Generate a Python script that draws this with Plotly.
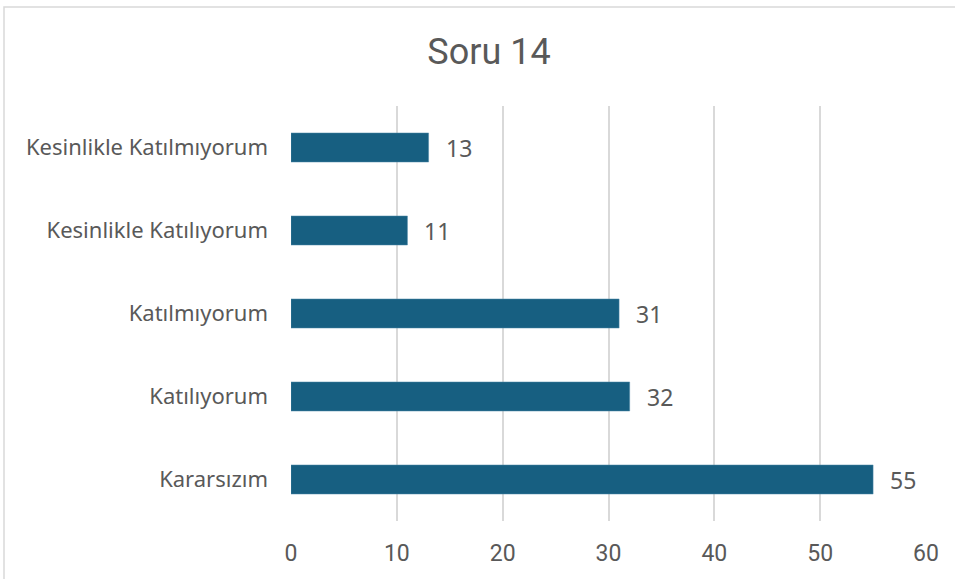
import plotly.graph_objects as go

categories = ["Kararsızım", "Katılıyorum", "Katılmıyorum",
              "Kesinlikle Katılıyorum", "Kesinlikle Katılmıyorum"]
counts = [55, 32, 31, 11, 13]
x_ticks = [0, 10, 20, 30, 40, 50, 60]

bar_color = "#175F81"
text_color = "#595959"

fig = go.Figure()
fig.add_trace(go.Bar(
    x=counts,
    y=categories,
    orientation="h",
    width=0.35,
    marker=dict(color=bar_color, line=dict(color="#4F88A6", width=0.5)),
    hoverinfo="x+y",
))

# value labels to the right of each bar
for c, v in zip(categories, counts):
    fig.add_annotation(
        x=v, y=c, text=str(v), showarrow=False,
        xanchor="left", xshift=15,
        font=dict(family="Noto Sans", size=23, color=text_color),
    )

# outer chart border
fig.add_shape(
    type="rect", xref="paper", yref="paper",
    x0=(4 - 291) / 635, x1=(960 - 291) / 635,
    y0=(521 - 590) / 415, y1=(521 - 7) / 415,
    line=dict(color="#D9D9D9", width=1.5),
)

fig.update_layout(
    width=955, height=579,
    margin=dict(l=291, r=29, t=106, b=58),
    paper_bgcolor="white",
    plot_bgcolor="white",
    showlegend=False,
    title=dict(
        text="Soru 14", x=(489 - 291) / 635, xref="paper",
        xanchor="center", y=1 - 51 / 579, yanchor="middle",
        font=dict(family="Roboto", size=36, color=text_color),
    ),
    bargap=0.65,
)

fig.update_xaxes(
    range=[0, 60], tickvals=x_ticks,
    showgrid=True, gridcolor="#D9D9D9", gridwidth=1.5,
    zeroline=False, showline=False,
    ticklabelstandoff=16,
    tickfont=dict(family="Roboto", size=23, color=text_color),
)
fig.update_yaxes(
    categoryorder="array", categoryarray=categories,
    showgrid=False, zeroline=False, showline=False,
    ticklabelstandoff=22,
    tickfont=dict(family="Noto Sans", size=22, color=text_color),
)

fig.write_html("out.html", config={"displayModeBar": False},
               post_script="document.body.style.margin='0';")
